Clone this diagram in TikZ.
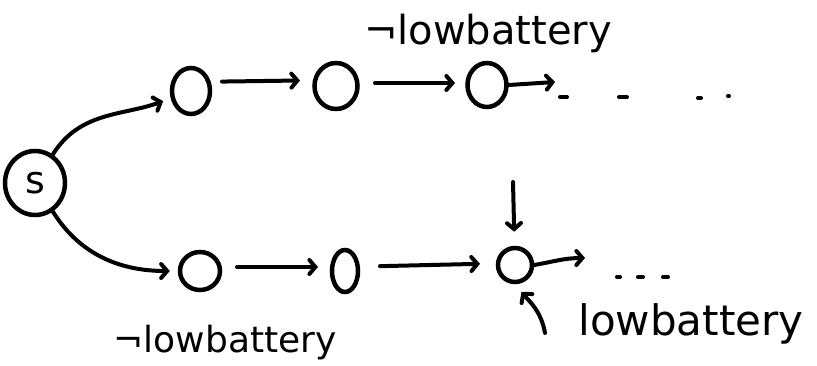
\documentclass[tikz,border=0pt]{standalone}
\usepackage{fontspec}
\setmainfont{DejaVu Sans}
\usetikzlibrary{shapes.geometric,arrows.meta}
\tikzset{
  st/.style={draw, ellipse, line width=4.5pt, inner sep=0pt},
  arr/.style={line width=4pt, line cap=round, -{Straight Barb[length=6pt,width=14pt,line cap=round]}},
  plain/.style={line width=4pt, line cap=round},
  lbl/.style={inner sep=0pt, anchor=base},
}
\begin{document}
\begin{tikzpicture}[x=1pt,y=1pt]
\useasboundingbox (0,0) rectangle (817,365);
% states
\node[st, minimum width=60pt, minimum height=64pt, font=\fontsize{38}{40}\selectfont] (s) at (35,182) {s};
\node[st, minimum width=38pt, minimum height=46pt] (u1) at (191,274) {};
\node[st, minimum width=43pt, minimum height=46pt] (u2) at (336,279) {};
\node[st, minimum width=39pt, minimum height=44pt] (u3) at (487,280) {};
\node[st, minimum width=40pt, minimum height=38pt] (d1) at (200,94) {};
\node[st, minimum width=26pt, minimum height=42pt] (d2) at (345,94) {};
\node[st, minimum width=34pt, minimum height=34pt] (d3) at (515,100) {};
% free ends
\coordinate (e1) at (555,283);
\coordinate (e2) at (585,107);
\coordinate (a1) at (513,183);
\coordinate (a2) at (545,32);
% connectors
\draw[arr, shorten >=8pt] (s) to[out=58,in=200] (u1);
\draw[arr, shorten >=8pt] (s) to[out=-58,in=180] (d1);
\draw[arr, shorten <=31pt, shorten >=36pt] ([yshift=9pt]u1.center) -- ([yshift=6pt]u2.center);
\draw[arr, shorten <=39pt, shorten >=32pt] ([yshift=3pt]u2.center) -- ([yshift=2pt]u3.center);
\draw[arr] (u3.east) -- (e1);
\draw[arr, shorten <=37pt, shorten >=27pt] ([yshift=4pt]d1.center) -- ([yshift=4pt]d2.center);
\draw[arr, shorten <=35pt, shorten >=35pt] ([yshift=4pt]d2.center) -- ([yshift=2pt]d3.center);
\draw[arr] (d3.east) to[out=10,in=180] (e2);
\draw[arr, shorten >=14pt] (a1) -- (d3);
\draw[arr, shorten >=10pt] (a2) to[out=100,in=-50] (d3.south);
% trailing dots
\draw[plain] (560,268) -- (567,268);
\draw[plain] (619,268) -- (627,268);
\draw[plain] (698,267) -- (701,267);
\draw[plain] (728,269) -- (729,269);
\draw[plain] (617,88) -- (620,88);
\draw[plain] (638,88) -- (643,88);
\draw[plain] (663,88) -- (668,88);
% labels
\node[lbl, font=\fontsize{40}{48}\selectfont] (t1) at (488,320) {¬lowbattery};
\node[lbl, font=\fontsize{36}{44}\selectfont] (t2) at (225,13) {¬lowbattery};
\node[lbl, font=\fontsize{42}{50}\selectfont] (t3) at (691,30) {lowbattery};
\end{tikzpicture}
\end{document}
